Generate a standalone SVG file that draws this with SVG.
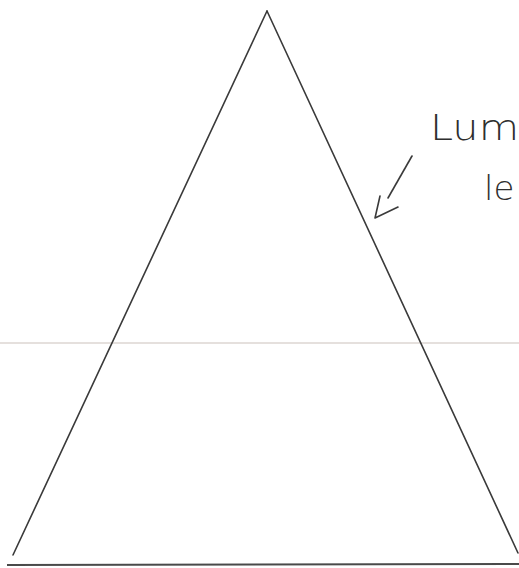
<svg xmlns="http://www.w3.org/2000/svg" width="519" height="568" viewBox="0 0 519 568">
<style>
.pen{fill:none;stroke:#3a3a3a;stroke-width:1.6;stroke-linecap:round;stroke-linejoin:round}
.hand{font-family:"DejaVu Sans","Liberation Sans",sans-serif;font-weight:200;fill:#2e2e2e}
</style>
<rect width="519" height="568" fill="#ffffff"/>
<g id="guide">
<line x1="0" y1="343" x2="519" y2="343" stroke="#ddd6d2" stroke-width="1.5"/>
</g>
<g id="triangle">
<line class="pen" x1="267" y1="11" x2="13" y2="555"/>
<line class="pen" x1="267" y1="11" x2="518" y2="553"/>
<line x1="7" y1="565" x2="519" y2="564" stroke="#4a4a4a" stroke-width="2.2"/>
</g>
<g id="connectors">
<path class="pen" d="M412 156 L388 198"/>
<path class="pen" d="M380 196 L375 218 L398 207"/>
</g>
<g id="label">
<text class="hand" x="430" y="140" font-size="36" textLength="89" lengthAdjust="spacingAndGlyphs">Lum</text>
<text class="hand" x="484" y="200" font-size="34">le</text>
</g>
</svg>
